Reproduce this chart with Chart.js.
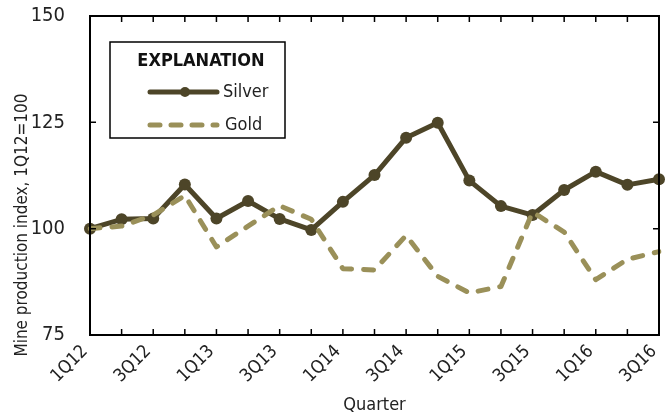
<!DOCTYPE html>
<html>
<head>
<meta charset="utf-8">
<script src="https://cdn.jsdelivr.net/npm/chart.js@4.4.0/dist/chart.umd.min.js"></script>
<style>
  html, body { margin: 0; padding: 0; background: #fff; }
  #wrap { width: 665px; height: 418px; }
</style>
</head>
<body>
<div id="wrap"><canvas id="myChart" width="665" height="418"></canvas></div>
<script>
// Datos (índice, 1Q12 = 100)
var quarters = ['1Q12','2Q12','3Q12','4Q12','1Q13','2Q13','3Q13','4Q13','1Q14','2Q14','3Q14','4Q14',
                '1Q15','2Q15','3Q15','4Q15','1Q16','2Q16','3Q16'];
var silver = [100, 102.2, 102.4, 110.4, 102.4, 106.5, 102.3, 99.7, 106.3, 112.6, 121.4, 124.9,
              111.3, 105.3, 103.2, 109.1, 113.4, 110.3, 111.6];
var gold = [100, 100.6, 103.2, 107.8, 95.7, 100.6, 105.4, 102.2, 90.6, 90.3, 98.4, 88.8,
            84.9, 86.4, 103.9, 99.2, 88.0, 92.8, 94.6];
var yTicks = [75, 100, 125, 150];

var silverColor = 'rgb(77, 69, 40)';
var goldColor = 'rgb(154, 144, 89)';
var fontName = "'Liberation Sans Narrow', 'Arial Narrow', 'DejaVu Sans Condensed', sans-serif";

// Marco, marcas hacia adentro, título del eje y, y la leyenda
var framePlugin = {
  id: 'frame',
  afterDraw: function(chart) {
    var ctx = chart.ctx;
    var a = chart.chartArea;
    var xs = chart.scales.x, ys = chart.scales.y;
    ctx.save();
    ctx.strokeStyle = '#000';
    ctx.lineWidth = 2;
    ctx.strokeRect(a.left, a.top, a.right - a.left, a.bottom - a.top);
    ctx.lineWidth = 1.5;
    ctx.beginPath();
    for (var i = 1; i < quarters.length - 1; i++) {
      var px = xs.getPixelForValue(i);
      ctx.moveTo(px, a.bottom); ctx.lineTo(px, a.bottom - 6);
      ctx.moveTo(px, a.top); ctx.lineTo(px, a.top + 6);
    }
    yTicks.forEach(function(v) {
      if (v === 75 || v === 150) return;
      var py = ys.getPixelForValue(v);
      ctx.moveTo(a.left, py); ctx.lineTo(a.left + 6, py);
      ctx.moveTo(a.right, py); ctx.lineTo(a.right - 6, py);
    });
    ctx.stroke();

    // título del eje y
    ctx.fillStyle = '#222';
    ctx.font = '17px ' + fontName;
    ctx.textAlign = 'center';
    ctx.textBaseline = 'middle';
    ctx.translate(23, 225);
    ctx.rotate(-Math.PI / 2);
    ctx.fillText('Mine production index, 1Q12=100', 0, 0);
    ctx.restore();

    // leyenda
    ctx.save();
    ctx.fillStyle = '#fff';
    ctx.fillRect(110, 42, 175, 96);
    ctx.strokeStyle = '#000';
    ctx.lineWidth = 1.5;
    ctx.strokeRect(110, 42, 175, 96);
    ctx.fillStyle = '#111';
    ctx.font = 'bold 18px ' + fontName;
    ctx.textAlign = 'center';
    ctx.textBaseline = 'alphabetic';
    ctx.fillText('EXPLANATION', 201, 66);

    ctx.lineCap = 'round';
    ctx.lineWidth = 5;
    ctx.strokeStyle = silverColor;
    ctx.beginPath(); ctx.moveTo(150, 92); ctx.lineTo(217, 92); ctx.stroke();
    ctx.fillStyle = silverColor;
    ctx.beginPath(); ctx.arc(185, 92, 5, 0, Math.PI * 2); ctx.fill();

    ctx.strokeStyle = goldColor;
    ctx.setLineDash([10, 11]);
    ctx.beginPath(); ctx.moveTo(150, 125); ctx.lineTo(217, 125); ctx.stroke();
    ctx.setLineDash([]);

    ctx.fillStyle = '#222';
    ctx.font = '18px ' + fontName;
    ctx.textAlign = 'left';
    ctx.textBaseline = 'middle';
    ctx.fillText('Silver', 223, 92);
    ctx.fillText('Gold', 225, 125);
    ctx.restore();
  }
};

var ctx = document.getElementById('myChart').getContext('2d');
var myChart = new Chart(ctx, {
  type: 'line',
  data: {
    labels: quarters,
    datasets: [{
      label: 'Gold',
      data: gold,
      borderColor: goldColor,
      borderWidth: 5,
      borderDash: [10, 12],
      borderCapStyle: 'round',
      borderJoinStyle: 'round',
      pointRadius: 0,
      tension: 0
    }, {
      label: 'Silver',
      data: silver,
      borderColor: silverColor,
      backgroundColor: silverColor,
      borderWidth: 5,
      borderJoinStyle: 'round',
      pointRadius: 6,
      pointBorderWidth: 0,
      tension: 0
    }]
  },
  options: {
    responsive: false,
    animation: false,
    layout: { padding: { top: 16, right: 5, left: 0, bottom: 0 } },
    plugins: {
      legend: { display: false },
      tooltip: { enabled: false }
    },
    scales: {
      x: {
        offset: false,
        grid: { display: false, drawTicks: false },
        border: { display: false },
        afterFit: function(s) {
          s.height = 83;
          s.paddingLeft = 0; s.paddingRight = 0;
        },
        ticks: {
          autoSkip: false,
          minRotation: 45,
          maxRotation: 45,
          padding: 6,
          labelOffset: -5,
          color: '#222',
          font: { family: fontName, size: 18 },
          callback: function(v, i) { return i % 2 === 0 ? quarters[i] : ''; }
        },
        title: {
          display: true,
          text: 'Quarter',
          color: '#222',
          font: { family: fontName, size: 18 },
          padding: { top: 0, bottom: 2 }
        }
      },
      y: {
        min: 75,
        max: 150,
        grid: { display: false, drawTicks: false },
        border: { display: false },
        afterFit: function(s) {
          s.width = 90;
          s.paddingTop = 0; s.paddingBottom = 0;
        },
        ticks: {
          stepSize: 25,
          padding: 25,
          color: '#222',
          font: { family: fontName, size: 20 }
        }
      }
    }
  },
  plugins: [framePlugin]
});
</script>
</body>
</html>
